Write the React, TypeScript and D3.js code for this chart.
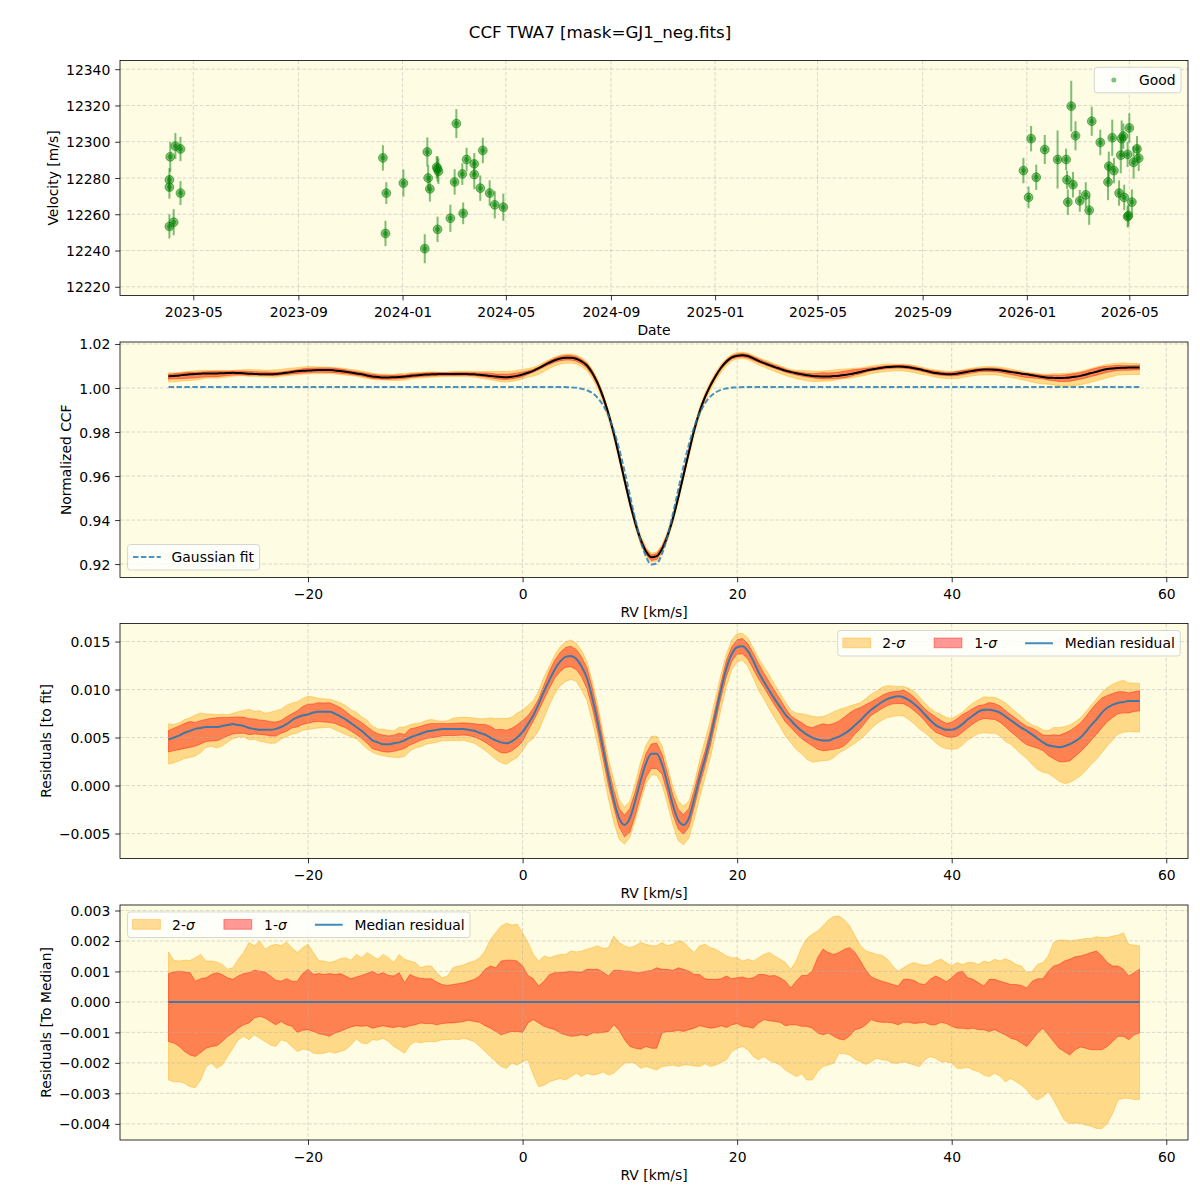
import { useEffect, useRef } from 'react';
import * as d3 from 'd3';

const FONT = "'DejaVu Sans', sans-serif";
const FS = 13.9;
const BG = '#fefce3';
const PLOT_LEFT = 120;
const PLOT_RIGHT = 1188;
const PANELS = [
  { top: 60.5, bottom: 295.5 },
  { top: 342, bottom: 577.5 },
  { top: 623.5, bottom: 858.5 },
  { top: 905, bottom: 1140 },
];

// ---- panel 1: RV time series
const OBS_DATE = [
  '2023-04-03', '2023-04-03', '2023-04-04', '2023-04-03', '2023-04-08', '2023-04-10', '2023-04-16', '2023-04-16',
  '2023-12-09', '2023-12-13', '2023-12-12', '2024-01-02', '2024-01-27', '2024-01-30', '2024-01-31', '2024-02-02',
  '2024-02-10', '2024-02-11', '2024-02-12', '2024-02-11', '2024-02-26', '2024-03-02', '2024-03-04', '2024-03-11',
  '2024-03-12', '2024-03-16', '2024-03-25', '2024-03-25', '2024-04-04', '2024-04-01', '2024-04-12', '2024-04-18',
  '2024-04-28',
  '2025-12-28', '2026-01-03', '2026-01-06', '2026-01-12', '2026-01-22', '2026-02-06', '2026-02-16', '2026-02-17',
  '2026-02-18', '2026-02-22', '2026-02-24', '2026-02-27', '2026-03-04', '2026-03-11', '2026-03-15', '2026-03-18',
  '2026-03-28', '2026-04-06', '2026-04-07', '2026-04-11', '2026-04-13', '2026-04-19', '2026-04-21', '2026-04-22',
  '2026-04-24', '2026-04-25', '2026-04-29', '2026-04-29', '2026-04-30', '2026-05-01', '2026-05-04', '2026-05-06',
  '2026-05-10', '2026-05-12',
];
const OBS_VEL = [
  12279, 12275, 12291.7, 12253.3, 12255.6, 12297.6, 12296, 12271.7,
  12291.1, 12271.7, 12249.4, 12277.2, 12241, 12294.4, 12280, 12274,
  12286, 12285, 12283.7, 12251.7, 12257.8, 12277.8, 12310, 12282.2,
  12260.5, 12290.2, 12287.8, 12281.9, 12295.2, 12274.4, 12271.7, 12265.2,
  12263.9,
  12284.1, 12269.3, 12301.7, 12280.4, 12295.7, 12290.2, 12290.2, 12279,
  12266.7, 12319.6, 12276.3, 12303.3, 12267.4, 12270.7, 12262.2, 12311.3,
  12299.6, 12277.8, 12286.5, 12302.2, 12284.1, 12271.7, 12292.6, 12301.7,
  12303.1, 12269.3, 12293, 12258.7, 12259.3, 12307.6, 12266.7, 12288.6,
  12296.1, 12290.9,
];
const OBS_ERR = [
  6.4, 6.4, 8.3, 6.7, 7.2, 7.2, 6.7, 6.6,
  7, 6, 7, 7.5, 8, 8, 7, 7,
  6, 7, 7, 7, 7.5, 7, 8, 6,
  6, 6.5, 6, 8, 7, 7, 7, 7.5,
  7.5,
  7, 6, 7, 7, 8, 16, 6, 5,
  7, 14, 7, 8, 6, 7, 8, 8,
  7, 10, 8, 10, 7, 7, 10, 10,
  7, 7, 7, 6, 6, 8, 7, 9,
  7, 7,
];
const VEL_TICKS = [12220, 12240, 12260, 12280, 12300, 12320, 12340];

// ---- CCF panels: RV grid (km/s), step 0.5 from -33 to 57.5
const RV_GRID = d3.range(-33, 57.51, 0.5);
const RV_TICKS = [-20, 0, 20, 40, 60];

// gaussian fit: flat continuum + core read between 4 and 20.5 km/s
const GAUSS_CONT = 1.0005;
const GAUSS_CORE_START = 4;
const GAUSS_CORE = [
  1.0004, 1.0003, 1.0001, 0.9997, 0.999, 0.9977, 0.9955, 0.9922, 0.9874, 0.9808,
  0.9724, 0.9624, 0.9514, 0.9404, 0.9307, 0.9235, 0.9198, 0.9203, 0.9247, 0.9325,
  0.9425, 0.9536, 0.9645, 0.9742, 0.9823, 0.9885, 0.993, 0.9961, 0.998, 0.9992,
  0.9998, 1.0002, 1.0003, 1.0004,
];

// median residual to fit, units of 1e-3
const RESID_MED = [
  4.8, 5.0, 5.2, 5.5, 5.7, 5.9, 6.0, 6.1, 6.1, 6.1,
  6.2, 6.3, 6.4, 6.3, 6.2, 6.0, 5.9, 5.8, 5.8, 5.8,
  5.9, 6.1, 6.4, 6.8, 7.1, 7.3, 7.4, 7.6, 7.7, 7.7,
  7.7, 7.5, 7.2, 6.9, 6.5, 6.1, 5.7, 5.2, 4.7, 4.5,
  4.3, 4.3, 4.4, 4.5, 4.7, 5.0, 5.2, 5.4, 5.6, 5.7,
  5.8, 5.9, 5.9, 5.9, 5.9, 5.9, 5.8, 5.7, 5.5, 5.3,
  5.0, 4.7, 4.5, 4.4, 4.6, 5.0, 5.6, 6.4, 7.3, 8.5,
  9.8, 11.0, 12.1, 12.9, 13.4, 13.5, 13.2, 12.4, 11.2, 9.1,
  6.6, 3.8, 1.0, -1.5, -3.4, -4.1, -3.4, -1.6, 0.5, 2.3,
  3.3, 3.3, 2.2, 0.2, -2.0, -3.6, -4.1, -3.4, -1.4, 0.8,
  2.8, 5.0, 7.5, 10.0, 12.2, 13.7, 14.4, 14.5, 14.0, 13.0,
  11.8, 10.8, 9.9, 9.0, 8.2, 7.4, 6.8, 6.2, 5.7, 5.3,
  5.0, 4.8, 4.7, 4.7, 4.9, 5.1, 5.4, 5.8, 6.3, 6.8,
  7.4, 7.9, 8.3, 8.7, 9.0, 9.2, 9.3, 9.2, 8.9, 8.5,
  8.0, 7.4, 6.8, 6.3, 6.0, 5.8, 5.8, 6.0, 6.4, 6.9,
  7.3, 7.7, 7.9, 7.9, 7.8, 7.6, 7.2, 6.8, 6.4, 6.0,
  5.7, 5.3, 4.9, 4.5, 4.2, 4.1, 4.0, 4.1, 4.3, 4.6,
  5.0, 5.6, 6.3, 6.9, 7.6, 8.1, 8.4, 8.6, 8.7, 8.8,
  8.8, 8.8,
];

// spread around the median, units of 1e-3
const SIG2_UP = [
  1.64, 1.36, 1.34, 1.37, 1.36, 1.45, 1.56, 1.34, 1.34, 1.31,
  1.23, 1.07, 1.12, 1.40, 1.62, 1.95, 1.84, 2.00, 1.73, 1.84,
  1.89, 1.84, 1.97, 1.78, 1.62, 1.78, 1.89, 1.62, 1.36, 1.34,
  1.29, 1.34, 1.42, 1.45, 1.37, 1.56, 1.45, 1.62, 1.51, 1.40,
  1.56, 1.45, 1.29, 1.56, 1.40, 1.34, 1.29, 1.12, 1.18, 1.18,
  0.96, 0.79, 0.85, 1.12, 1.18, 1.21, 1.29, 1.34, 1.45, 1.67,
  2.05, 2.27, 2.49, 2.58, 2.52, 2.55, 2.27, 1.95, 1.56, 1.34,
  1.51, 1.45, 1.51, 1.56, 1.56, 1.67, 1.64, 1.67, 1.73, 1.78,
  1.84, 1.75, 1.78, 2.16, 1.95, 1.84, 1.78, 1.84, 1.95, 1.89,
  1.84, 1.84, 1.95, 1.84, 1.89, 2.00, 1.97, 1.78, 1.62, 1.84,
  1.89, 1.78, 1.73, 1.62, 1.51, 1.45, 1.45, 1.34, 1.40, 1.34,
  1.45, 1.56, 1.62, 1.51, 1.40, 1.29, 1.07, 1.34, 1.78, 2.08,
  2.22, 2.33, 2.49, 2.69, 2.80, 2.82, 2.69, 2.49, 2.16, 1.84,
  1.67, 1.62, 1.56, 1.53, 1.40, 1.18, 1.01, 1.12, 1.23, 1.29,
  1.23, 1.20, 1.23, 1.34, 1.40, 1.29, 1.18, 1.29, 1.23, 1.29,
  1.29, 1.23, 1.34, 1.29, 1.40, 1.34, 1.42, 1.34, 1.23, 1.18,
  0.96, 1.01, 1.23, 1.29, 1.51, 1.95, 2.03, 2.03, 2.00, 2.03,
  2.05, 2.08, 2.08, 2.14, 2.11, 2.11, 2.16, 2.19, 2.27, 1.89,
  1.86, 1.84,
];
const SIG1_UP = [
  0.93, 0.98, 1.01, 0.98, 0.96, 0.68, 0.76, 0.79, 0.90, 0.96,
  0.90, 0.79, 0.74, 0.85, 0.93, 0.96, 1.04, 1.01, 0.98, 0.85,
  0.71, 0.68, 0.76, 0.68, 0.68, 0.93, 1.07, 0.90, 0.93, 0.90,
  0.93, 0.90, 0.93, 0.85, 0.76, 0.82, 0.87, 0.93, 1.01, 0.90,
  0.96, 0.87, 0.85, 0.96, 0.63, 0.90, 0.82, 0.77, 0.76, 0.76,
  0.65, 0.57, 0.54, 0.57, 0.60, 0.63, 0.68, 0.74, 0.85, 1.07,
  1.18, 1.12, 1.34, 1.37, 1.37, 1.34, 1.18, 0.87, 0.76, 0.52,
  0.68, 0.90, 0.96, 0.96, 0.98, 1.01, 0.98, 0.98, 1.07, 1.07,
  1.07, 0.98, 0.85, 1.04, 1.04, 1.01, 1.01, 0.96, 0.96, 1.01,
  1.03, 1.12, 1.07, 1.07, 1.03, 1.12, 1.07, 1.01, 0.90, 0.90,
  0.76, 0.74, 0.74, 0.76, 0.85, 0.76, 0.79, 0.82, 0.76, 0.79,
  0.90, 0.90, 0.85, 0.87, 0.79, 0.68, 0.46, 0.68, 0.87, 0.87,
  1.01, 1.45, 1.73, 1.62, 1.56, 1.62, 1.73, 1.78, 1.62, 1.34,
  1.04, 0.82, 0.74, 0.68, 0.63, 0.57, 0.52, 0.74, 0.74, 0.70,
  0.60, 0.57, 0.74, 0.85, 0.77, 0.66, 0.79, 0.96, 1.01, 0.79,
  0.74, 0.63, 0.52, 0.74, 0.74, 0.68, 0.63, 0.57, 0.57, 0.54,
  0.46, 0.68, 0.76, 0.76, 1.01, 1.18, 1.23, 1.34, 1.40, 1.48,
  1.51, 1.56, 1.62, 1.67, 1.51, 1.29, 1.18, 1.18, 1.07, 0.85,
  0.96, 1.07,
];
const SIG1_LO = [
  -1.30, -1.35, -1.46, -1.63, -1.74, -1.79, -1.66, -1.52, -1.46, -1.44,
  -1.30, -1.13, -1.02, -0.86, -0.75, -0.69, -0.53, -0.47, -0.53, -0.64,
  -0.75, -0.64, -0.75, -0.80, -1.00, -0.93, -0.91, -0.97, -1.04, -1.08,
  -1.13, -1.02, -0.97, -0.89, -0.82, -0.78, -0.80, -0.78, -0.86, -0.82,
  -0.78, -0.82, -0.84, -0.80, -0.84, -0.78, -0.75, -0.69, -0.71, -0.71,
  -0.75, -0.71, -0.69, -0.69, -0.67, -0.64, -0.60, -0.64, -0.67, -0.78,
  -0.86, -0.97, -1.08, -1.02, -0.97, -0.97, -1.00, -0.69, -0.58, -0.69,
  -0.80, -0.86, -0.91, -1.02, -1.08, -1.13, -1.11, -1.08, -1.11, -1.02,
  -1.02, -1.00, -0.97, -0.75, -0.93, -1.24, -1.46, -1.52, -1.55, -1.46,
  -1.52, -1.52, -1.02, -0.97, -0.97, -0.93, -0.97, -0.91, -0.86, -0.78,
  -0.82, -0.86, -0.84, -0.78, -0.84, -0.75, -0.71, -0.80, -0.82, -0.86,
  -0.69, -0.58, -0.62, -0.64, -0.67, -0.78, -0.75, -0.75, -0.80, -0.80,
  -0.86, -1.02, -1.08, -1.02, -1.13, -1.22, -1.24, -1.11, -0.91, -0.86,
  -0.75, -0.58, -0.64, -0.67, -0.67, -0.69, -0.75, -0.67, -0.67, -0.71,
  -0.69, -0.67, -0.75, -0.75, -0.67, -0.71, -0.80, -0.86, -0.86, -0.89,
  -0.86, -0.91, -0.91, -0.97, -0.91, -1.00, -1.08, -1.19, -1.24, -1.35,
  -1.46, -1.24, -1.02, -0.86, -1.08, -1.30, -1.52, -1.63, -1.74, -1.57,
  -1.48, -1.52, -1.57, -1.57, -1.57, -1.46, -1.30, -1.13, -1.13, -1.24,
  -1.08, -1.02,
];
const SIG2_LO = [
  -2.56, -2.62, -2.62, -2.67, -2.78, -2.81, -2.56, -2.12, -2.01, -2.18,
  -2.07, -1.79, -1.52, -1.24, -1.13, -1.24, -1.08, -1.19, -1.30, -1.41,
  -1.46, -1.24, -1.30, -1.46, -1.63, -1.55, -1.57, -1.68, -1.70, -1.68,
  -1.63, -1.68, -1.63, -1.57, -1.41, -1.22, -1.35, -1.37, -1.24, -1.26,
  -1.19, -1.30, -1.46, -1.57, -1.68, -1.41, -1.30, -1.35, -1.30, -1.30,
  -1.30, -1.24, -1.24, -1.22, -1.24, -1.19, -1.24, -1.30, -1.46, -1.63,
  -1.79, -1.96, -2.12, -2.18, -2.01, -2.07, -1.96, -1.90, -2.40, -2.78,
  -2.73, -2.62, -2.56, -2.51, -2.56, -2.45, -2.34, -2.45, -2.34, -2.40,
  -2.37, -2.29, -2.40, -2.34, -2.18, -2.01, -1.99, -2.01, -2.18, -2.12,
  -2.18, -2.23, -2.12, -2.10, -2.07, -2.12, -2.07, -2.07, -2.10, -2.12,
  -2.03, -2.12, -2.07, -1.99, -1.90, -1.63, -1.52, -1.46, -1.57, -1.79,
  -1.90, -1.79, -1.92, -1.99, -2.07, -2.23, -2.34, -2.45, -2.36, -2.56,
  -2.56, -2.29, -2.12, -2.07, -2.01, -1.68, -1.70, -1.74, -1.88, -1.96,
  -2.05, -1.96, -1.85, -1.90, -1.92, -2.01, -2.01, -1.96, -2.01, -2.07,
  -2.12, -1.90, -1.79, -1.85, -1.96, -1.96, -2.01, -2.18, -2.18, -2.14,
  -2.23, -2.29, -2.40, -2.45, -2.34, -2.43, -2.62, -2.51, -2.62, -2.73,
  -2.89, -3.11, -3.22, -3.11, -2.95, -3.22, -3.55, -3.88, -3.99, -3.97,
  -3.99, -4.04, -4.08, -4.15, -4.15, -3.99, -3.66, -3.22, -3.16, -3.16,
  -3.20, -3.20,
];

const CCF_TICKS = [0.92, 0.94, 0.96, 0.98, 1.0, 1.02];
const FIT_TICKS = [-0.005, 0, 0.005, 0.01, 0.015];
const MED_TICKS = [-0.004, -0.003, -0.002, -0.001, 0, 0.001, 0.002, 0.003];

const MILLI = 1e-3;

type Sel = d3.Selection<any, unknown, null, undefined>;

const fmtFixed = (n: number) => (v: number) => (v < 0 ? '\u2212' : '') + Math.abs(v).toFixed(n);

function drawBg(svg: Sel, top: number, bottom: number) {
  svg.append('rect')
    .attr('x', PLOT_LEFT).attr('y', top)
    .attr('width', PLOT_RIGHT - PLOT_LEFT).attr('height', bottom - top)
    .attr('fill', BG);
}

function drawGrid(svg: Sel, x: any, y: any, xTicks: any[], yTicks: number[], top: number, bottom: number) {
  const g = svg.append('g')
    .attr('stroke', '#b0b0b0').attr('stroke-opacity', 0.6)
    .attr('stroke-width', 0.8).attr('stroke-dasharray', '3.7,2');
  xTicks.forEach(t => {
    g.append('line').attr('x1', x(t)).attr('x2', x(t)).attr('y1', top).attr('y2', bottom);
  });
  yTicks.forEach(t => {
    g.append('line').attr('x1', PLOT_LEFT).attr('x2', PLOT_RIGHT).attr('y1', y(t)).attr('y2', y(t));
  });
}

function drawAxes(svg: Sel, x: any, y: any, xTicks: any[], yTicks: number[], xFmt: any, yFmt: any, top: number, bottom: number) {
  const xAxisG = svg.append('g')
    .attr('transform', `translate(0,${bottom})`)
    .call(d3.axisBottom(x).tickValues(xTicks).tickFormat(xFmt).tickSize(4.86).tickPadding(4.86).tickSizeOuter(0));
  const yAxisG = svg.append('g')
    .attr('transform', `translate(${PLOT_LEFT},0)`)
    .call(d3.axisLeft(y).tickValues(yTicks).tickFormat(yFmt).tickSize(4.86).tickPadding(4.86).tickSizeOuter(0));
  [xAxisG, yAxisG].forEach(a => {
    a.select('.domain').remove();
    a.selectAll('line').attr('stroke', '#000').attr('stroke-width', 0.8);
    a.selectAll('text').attr('font-family', FONT).attr('font-size', FS).attr('fill', '#000');
  });
  xAxisG.selectAll('text').attr('dy', '0.86em');
  yAxisG.selectAll('text').attr('dy', '0.36em');
  svg.append('rect')
    .attr('x', PLOT_LEFT).attr('y', top)
    .attr('width', PLOT_RIGHT - PLOT_LEFT).attr('height', bottom - top)
    .attr('fill', 'none').attr('stroke', '#000').attr('stroke-width', 0.8);
}

function label(svg: Sel, text: string, x: number, y: number, rotate = false) {
  const t = svg.append('text')
    .attr('font-family', FONT).attr('font-size', FS).attr('fill', '#000')
    .attr('text-anchor', 'middle').text(text);
  if (rotate) t.attr('transform', `translate(${x},${y}) rotate(-90)`);
  else t.attr('x', x).attr('y', y);
}

function legendFrame(svg: Sel, x: number, y: number, w: number, h: number) {
  svg.append('rect')
    .attr('x', x).attr('y', y).attr('width', w).attr('height', h).attr('rx', 2.8)
    .attr('fill', '#fff').attr('fill-opacity', 0.8)
    .attr('stroke', '#cccccc').attr('stroke-opacity', 0.8).attr('stroke-width', 1);
}

function sigmaLegend(svg: Sel, left: number, top: number) {
  const w = 342.4, h = 25.5;
  const cy = top + h / 2;
  legendFrame(svg, left, top, w, h);
  const items = [
    { color: 'orange', text: '2-', hx: 5, tx: 44.5 },
    { color: 'red', text: '1-', hx: 96.3, tx: 136.5 },
  ];
  items.forEach(it => {
    svg.append('rect')
      .attr('x', left + it.hx).attr('y', cy - 5.2).attr('width', 27.8).attr('height', 9.7)
      .attr('fill', it.color).attr('fill-opacity', 0.4)
      .attr('stroke', it.color).attr('stroke-opacity', 0.4).attr('stroke-width', 1);
    const t = svg.append('text')
      .attr('x', left + it.tx).attr('y', cy + 5)
      .attr('font-family', FONT).attr('font-size', FS).attr('fill', '#000');
    t.append('tspan').text(it.text);
    t.append('tspan').attr('font-style', 'italic').text('\u03c3');
  });
  svg.append('line')
    .attr('x1', left + 187.3).attr('x2', left + 215.1).attr('y1', cy).attr('y2', cy)
    .attr('stroke', '#1f77b4').attr('stroke-opacity', 0.85).attr('stroke-width', 2);
  svg.append('text')
    .attr('x', left + 227).attr('y', cy + 5)
    .attr('font-family', FONT).attr('font-size', FS).attr('fill', '#000')
    .text('Median residual');
}

function drawBands(svg: Sel, x: any, y: any, rows: any[], keys: [string, string, string, string]) {
  const [lo2, hi2, lo1, hi1] = keys;
  const area2 = d3.area<any>().x(d => x(d.rv)).y0(d => y(d[lo2])).y1(d => y(d[hi2]));
  const area1 = d3.area<any>().x(d => x(d.rv)).y0(d => y(d[lo1])).y1(d => y(d[hi1]));
  svg.append('path').attr('d', area2(rows))
    .attr('fill', 'orange').attr('fill-opacity', 0.4)
    .attr('stroke', 'orange').attr('stroke-opacity', 0.4).attr('stroke-width', 1);
  svg.append('path').attr('d', area1(rows))
    .attr('fill', 'red').attr('fill-opacity', 0.4)
    .attr('stroke', 'red').attr('stroke-opacity', 0.4).attr('stroke-width', 1);
}

function draw(svg: Sel) {
  svg.append('rect').attr('width', 1200).attr('height', 1200).attr('fill', '#fff');

  svg.append('text')
    .attr('x', 600).attr('y', 38).attr('text-anchor', 'middle')
    .attr('font-family', FONT).attr('font-size', 16.7).attr('fill', '#000')
    .text('CCF TWA7 [mask=GJ1_neg.fits]');

  const xMid = (PLOT_LEFT + PLOT_RIGHT) / 2;

  // ---------- panel 1: velocity vs date
  {
    const { top, bottom } = PANELS[0];
    const parse = d3.utcParse('%Y-%m-%d');
    const obs = OBS_DATE.map((d, i) => ({ date: parse(d) as Date, vel: OBS_VEL[i], err: OBS_ERR[i] }));
    const x = d3.scaleUtc()
      .domain([new Date(Date.UTC(2023, 1, 4, 4)), new Date(Date.UTC(2026, 6, 8, 17))])
      .range([PLOT_LEFT, PLOT_RIGHT]);
    const y = d3.scaleLinear().domain([12215.2, 12344.8]).range([bottom, top]);
    const dateTicks = x.ticks(d3.utcMonth.every(4) as any);

    drawBg(svg, top, bottom);
    svg.append('g').selectAll('circle').data(obs).join('circle')
      .attr('cx', d => x(d.date)).attr('cy', d => y(d.vel)).attr('r', 2.5)
      .attr('fill', 'green').attr('fill-opacity', 0.5);
    drawGrid(svg, x, y, dateTicks, VEL_TICKS, top, bottom);
    svg.append('g').selectAll('line').data(obs).join('line')
      .attr('x1', d => x(d.date)).attr('x2', d => x(d.date))
      .attr('y1', d => y(d.vel - d.err)).attr('y2', d => y(d.vel + d.err))
      .attr('stroke', 'green').attr('stroke-opacity', 0.5).attr('stroke-width', 2);
    svg.append('g').selectAll('circle').data(obs).join('circle')
      .attr('cx', d => x(d.date)).attr('cy', d => y(d.vel)).attr('r', 4.4)
      .attr('fill', 'green').attr('fill-opacity', 0.5)
      .attr('stroke', 'green').attr('stroke-opacity', 0.5).attr('stroke-width', 1);

    drawAxes(svg, x, y, dateTicks, VEL_TICKS, d3.utcFormat('%Y-%m'), (v: number) => String(v), top, bottom);
    label(svg, 'Date', xMid, bottom + 39.5);
    label(svg, 'Velocity [m/s]', 57.5, (top + bottom) / 2, true);

    legendFrame(svg, 1094.3, 67.3, 86.7, 25.5);
    svg.append('circle').attr('cx', 1113.8).attr('cy', 80).attr('r', 2.5)
      .attr('fill', 'green').attr('fill-opacity', 0.5);
    svg.append('text').attr('x', 1139).attr('y', 85)
      .attr('font-family', FONT).attr('font-size', FS).attr('fill', '#000').text('Good');
  }

  // shared rows for the CCF panels
  const rows = RV_GRID.map((rv, i) => {
    const k = Math.round((rv - GAUSS_CORE_START) / 0.5);
    const gauss = k >= 0 && k < GAUSS_CORE.length ? GAUSS_CORE[k] : GAUSS_CONT;
    const med = RESID_MED[i] * MILLI;
    const hi2 = SIG2_UP[i] * MILLI, hi1 = SIG1_UP[i] * MILLI;
    const lo1 = SIG1_LO[i] * MILLI, lo2 = SIG2_LO[i] * MILLI;
    return {
      rv, gauss, med, hi2, hi1, lo1, lo2,
      ccf: gauss + med,
      ccfHi2: gauss + med + hi2, ccfHi1: gauss + med + hi1,
      ccfLo1: gauss + med + lo1, ccfLo2: gauss + med + lo2,
      resHi2: med + hi2, resHi1: med + hi1, resLo1: med + lo1, resLo2: med + lo2,
      zero: 0,
    };
  });
  const xRv = d3.scaleLinear().domain([-37.525, 62.025]).range([PLOT_LEFT, PLOT_RIGHT]);
  const rvFmt = fmtFixed(0);

  // ---------- panel 2: normalized CCF
  {
    const { top, bottom } = PANELS[1];
    const y = d3.scaleLinear().domain([0.9139, 1.0209]).range([bottom, top]);
    drawBg(svg, top, bottom);
    drawBands(svg, xRv, y, rows, ['ccfLo2', 'ccfHi2', 'ccfLo1', 'ccfHi1']);
    drawGrid(svg, xRv, y, RV_TICKS, CCF_TICKS, top, bottom);
    svg.append('path')
      .attr('d', d3.line<any>().x(d => xRv(d.rv)).y(d => y(d.ccf)).curve(d3.curveMonotoneX)(rows))
      .attr('fill', 'none').attr('stroke', '#000').attr('stroke-width', 2);
    svg.append('path')
      .attr('d', d3.line<any>().x(d => xRv(d.rv)).y(d => y(d.gauss)).curve(d3.curveMonotoneX)(rows))
      .attr('fill', 'none').attr('stroke', '#1f77b4').attr('stroke-opacity', 0.8)
      .attr('stroke-width', 2).attr('stroke-dasharray', '5.5,2.4');
    drawAxes(svg, xRv, y, RV_TICKS, CCF_TICKS, rvFmt, fmtFixed(2), top, bottom);
    label(svg, 'RV [km/s]', xMid, bottom + 39.5);
    label(svg, 'Normalized CCF', 71, (top + bottom) / 2, true);

    legendFrame(svg, 127.6, 544.5, 132, 25.5);
    svg.append('line').attr('x1', 133).attr('x2', 160.8).attr('y1', 557).attr('y2', 557)
      .attr('stroke', '#1f77b4').attr('stroke-opacity', 0.8).attr('stroke-width', 2)
      .attr('stroke-dasharray', '5.5,2.4');
    svg.append('text').attr('x', 171.6).attr('y', 562)
      .attr('font-family', FONT).attr('font-size', FS).attr('fill', '#000').text('Gaussian fit');
  }

  // ---------- panel 3: residuals to fit
  {
    const { top, bottom } = PANELS[2];
    const y = d3.scaleLinear().domain([-0.0076, 0.01688]).range([bottom, top]);
    drawBg(svg, top, bottom);
    drawBands(svg, xRv, y, rows, ['resLo2', 'resHi2', 'resLo1', 'resHi1']);
    drawGrid(svg, xRv, y, RV_TICKS, FIT_TICKS, top, bottom);
    svg.append('path')
      .attr('d', d3.line<any>().x(d => xRv(d.rv)).y(d => y(d.med)).curve(d3.curveMonotoneX)(rows))
      .attr('fill', 'none').attr('stroke', '#1f77b4').attr('stroke-opacity', 0.85).attr('stroke-width', 2);
    drawAxes(svg, xRv, y, RV_TICKS, FIT_TICKS, rvFmt, fmtFixed(3), top, bottom);
    label(svg, 'RV [km/s]', xMid, bottom + 39.5);
    label(svg, 'Residuals [to fit]', 50.5, (top + bottom) / 2, true);
    sigmaLegend(svg, 837.8, 630.5);
  }

  // ---------- panel 4: residuals to median
  {
    const { top, bottom } = PANELS[3];
    const y = d3.scaleLinear().domain([-0.00453, 0.00318]).range([bottom, top]);
    drawBg(svg, top, bottom);
    drawBands(svg, xRv, y, rows, ['lo2', 'hi2', 'lo1', 'hi1']);
    drawGrid(svg, xRv, y, RV_TICKS, MED_TICKS, top, bottom);
    svg.append('path')
      .attr('d', d3.line<any>().x(d => xRv(d.rv)).y(d => y(d.zero))(rows))
      .attr('fill', 'none').attr('stroke', '#1f77b4').attr('stroke-opacity', 0.85).attr('stroke-width', 2);
    drawAxes(svg, xRv, y, RV_TICKS, MED_TICKS, rvFmt, fmtFixed(3), top, bottom);
    label(svg, 'RV [km/s]', xMid, bottom + 39.5);
    label(svg, 'Residuals [To Median]', 50.5, (top + bottom) / 2, true);
    sigmaLegend(svg, 127.6, 912);
  }
}

export default function App() {
  const svgRef = useRef<SVGSVGElement>(null);

  useEffect(() => {
    document.body.style.margin = '0';
    const svg = d3.select(svgRef.current) as Sel;
    svg.selectAll('*').remove();
    draw(svg);
  }, []);

  return <svg ref={svgRef} width={1200} height={1200} style={{ display: 'block' }} />;
}
